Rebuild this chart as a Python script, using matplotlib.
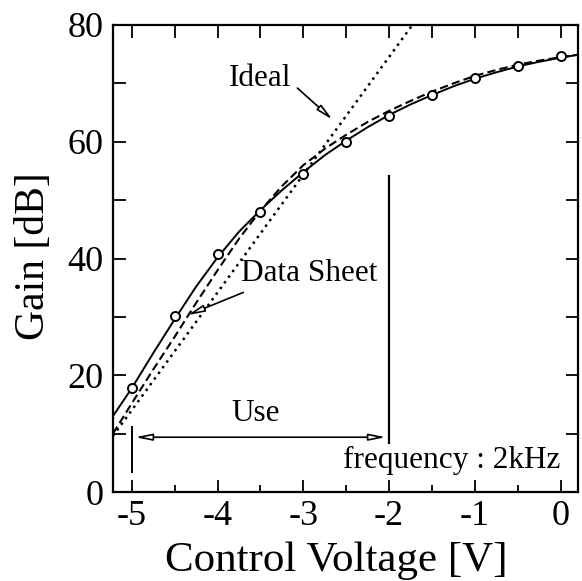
import numpy as np
import matplotlib
matplotlib.use("Agg")
import matplotlib.pyplot as plt
from matplotlib.ticker import MultipleLocator

plt.rcParams['font.family'] = ['Liberation Serif', 'DejaVu Serif']
plt.rcParams['mathtext.fontset'] = 'stix'

# measured points (circles)
meas_x = [-5.0, -4.5, -4.0, -3.5, -3.0, -2.5, -2.0, -1.5, -1.0, -0.5, 0.0]
meas_y = [17.9, 30.1, 40.7, 47.9, 54.5, 60.0, 64.4, 68.0, 70.9, 73.0, 74.7]

# solid fitted curve
fit_x = [-5.22, -5.0, -4.75, -4.5, -4.25, -4.0, -3.75, -3.5, -3.25, -3.0, -2.75,
         -2.5, -2.25, -2.0, -1.75, -1.5, -1.25, -1.0, -0.75, -0.5, -0.25, 0.0, 0.2]
fit_y = [13.0, 17.8, 23.8, 29.6, 35.2, 40.2, 44.6, 48.3, 51.7, 54.8, 57.7,
         60.2, 62.5, 64.6, 66.4, 68.0, 69.5, 70.8, 71.9, 72.9, 73.7, 74.4, 74.9]

# data sheet curve (dashed)
ds_x = [-5.22, -5.0, -4.75, -4.5, -4.25, -4.0, -3.75, -3.5, -3.25, -3.0, -2.75,
        -2.5, -2.25, -2.0, -1.75, -1.5, -1.25, -1.0, -0.75, -0.5, -0.25, 0.0, 0.2]
ds_y = [10.0, 15.2, 21.0, 26.6, 32.4, 38.0, 43.4, 48.2, 52.4, 56.0, 58.8,
        61.2, 63.4, 65.3, 67.0, 68.6, 70.0, 71.3, 72.3, 73.2, 73.9, 74.5, 74.9]

# ideal line (dotted)
ideal_x = [-5.22, -1.70]
ideal_y = [9.6, 80.6]

xticks = [-5, -4, -3, -2, -1, 0]
yticks = [0, 20, 40, 60, 80]

fig = plt.figure(figsize=(5.82, 5.81), dpi=100)
ax = fig.add_axes([0.194, 0.153, 0.799, 0.804])

ax.plot(fit_x, fit_y, color='black', lw=1.4, solid_capstyle='butt')
ax.plot(ds_x, ds_y, color='black', lw=1.5, linestyle=(0, (4, 2)))
ax.plot(ideal_x, ideal_y, color='black', lw=1.8, linestyle=(0, (1, 1.8)))
ax.plot(meas_x, meas_y, linestyle='none', marker='o', ms=6.5, mfc='white',
        mec='black', mew=1.4, zorder=5)

ax.set_xlim(-5.22, 0.2)
ax.set_ylim(0, 80)

ax.set_xticks(xticks)
ax.set_xticklabels([str(t) for t in xticks])
ax.set_yticks(yticks)
ax.xaxis.set_minor_locator(MultipleLocator(0.5))
ax.yaxis.set_minor_locator(MultipleLocator(10))
ax.tick_params(axis='x', which='major', direction='in', length=9, width=1.3,
               labelsize=26, pad=6, top=False, bottom=True)
ax.tick_params(axis='x', which='minor', direction='in', length=5, width=1.3,
               top=False, bottom=True)
ax.tick_params(axis='y', which='both', direction='in', length=9, width=1.3,
               labelsize=26, pad=7, left=True, right=True)
sec = ax.secondary_xaxis('top')
sec.set_xticks(np.arange(-5, 0.01, 0.5))
sec.tick_params(direction='in', length=9, width=1.3, labeltop=False)
sec.spines['top'].set_visible(False)

for s in ax.spines.values():
    s.set_linewidth(1.6)

ax.set_xlabel('Control Voltage [V]', fontsize=31)
ax.xaxis.set_label_coords(0.48, -0.105)
ax.set_ylabel('Gain [dB]', fontsize=30)
ax.yaxis.set_label_coords(-0.128, 0.505)

# annotations
ax.text(-3.50, 70.9, 'Ideal', fontsize=22.5, ha='center', va='center')
ax.annotate('', xy=(-2.66, 63.8), xytext=(-3.07, 69.2),
            arrowprops=dict(arrowstyle='-|>,head_length=1.0,head_width=0.2',
                            fc='white', ec='black', lw=1.2, shrinkA=0, shrinkB=0))
ax.text(-2.93, 37.4, 'Data Sheet', fontsize=22.5, ha='center', va='center')
ax.annotate('', xy=(-4.35, 30.3), xytext=(-3.70, 34.2),
            arrowprops=dict(arrowstyle='-|>,head_length=1.0,head_width=0.2',
                            fc='white', ec='black', lw=1.2, shrinkA=0, shrinkB=0))
ax.text(-3.56, 13.5, 'Use', fontsize=22.5, ha='center', va='center')
ax.annotate('', xy=(-4.96, 9.4), xytext=(-2.04, 9.4),
            arrowprops=dict(arrowstyle='<|-|>,head_length=1.0,head_width=0.2',
                            fc='white', ec='black', lw=1.2, shrinkA=0, shrinkB=0))
ax.plot([-5, -5], [3.4, 11.1], color='black', lw=1.4)
ax.plot([-2, -2], [8.4, 54.1], color='black', lw=1.6)
ax.text(-1.27, 5.5, 'frequency : 2kHz', fontsize=22.5, ha='center', va='center')

fig.savefig('out.png', dpi=100)
